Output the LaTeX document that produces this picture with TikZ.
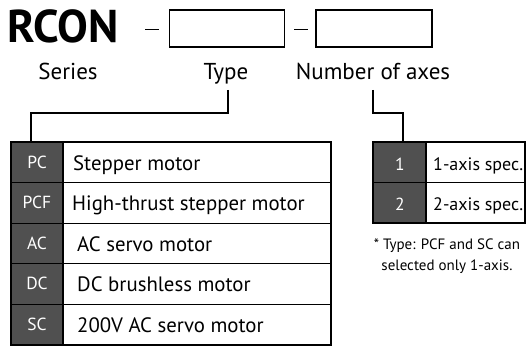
\documentclass[tikz,border=0pt]{standalone}
\usepackage{fontspec}
\setmainfont{PT Sans}
\definecolor{cellgray}{HTML}{505050}
\begin{document}
\begin{tikzpicture}[x=1pt,y=-1pt,
  dcell/.style={draw=black,line width=1.2pt,fill=cellgray},
  wcell/.style={draw=black,line width=1.2pt,fill=white},
  lbl/.style={font=\fontsize{23}{23}\selectfont,inner sep=0pt,anchor=base},
  keytext/.style={text=white,font=\fontsize{17.5}{17.5}\selectfont,inner sep=0pt,anchor=base},
  celltext/.style={font=\fontsize{20.8}{20.8}\selectfont,inner sep=0pt,anchor=base west},
  axtext/.style={font=\fontsize{18}{18}\selectfont,inner sep=0pt,anchor=base west},
  dashline/.style={draw=black,line width=1.8pt},
  conn/.style={draw=black,line width=1.2pt}]
\useasboundingbox (0,0) rectangle (532,350);
% header
\node[inner sep=0pt,anchor=base west,font=\fontsize{46}{46}\bfseries\selectfont] (rcon) at (7,43) {RCON};
\node[draw=black,line width=1.2pt,minimum width=115pt,minimum height=37pt,inner sep=0pt] (b1) at (227,28.5) {};
\node[draw=black,line width=1.2pt,minimum width=116pt,minimum height=37pt,inner sep=0pt] (b2) at (374,28.5) {};
\coordinate (d1a) at (145,29.5);
\coordinate (d1b) at (159,29.5);
\coordinate (d2a) at (294,29.5);
\coordinate (d2b) at (308,29.5);
\draw[dashline] (d1a) -- (d1b);
\draw[dashline] (d2a) -- (d2b);
\node[lbl] (series) at (68,80) {Series};
\node[lbl] (type) at (226,80) {Type};
\node[lbl] (axes) at (373,80) {Number of axes};
% left table
\foreach \i/\c/\t/\xo in {1/PC/Stepper motor/73,2/PCF/High-thrust stepper motor/72,3/AC/AC servo motor/77,4/DC/DC brushless motor/77,5/SC/200V AC servo motor/77}{
  \pgfmathsetmacro{\ytop}{142+(\i-1)*40.6}
  \pgfmathsetmacro{\ybot}{142+\i*40.6}
  \draw[wcell] (63,\ytop) rectangle (331,\ybot);
  \draw[dcell] (11,\ytop) rectangle (63,\ybot);
  \node[keytext] (k\i) at (37,\ytop+26) {\c};
  \node[celltext] (v\i) at (\xo,\ytop+28) {\t};
}
\coordinate (ltop) at (31,142);
% right table
\foreach \i/\c/\t in {1/1/1-axis spec.,2/2/2-axis spec.}{
  \pgfmathsetmacro{\ytop}{142+(\i-1)*40.5}
  \pgfmathsetmacro{\ybot}{142+\i*40.5}
  \draw[wcell] (426,\ytop) rectangle (525,\ybot);
  \draw[dcell] (373,\ytop) rectangle (426,\ybot);
  \node[keytext] (n\i) at (400,\ytop+28) {\c};
  \node[axtext] (a\i) at (433,\ytop+28) {\t};
}
\coordinate (rtop) at (403,142);
% footnote
\node[align=center,font=\fontsize{15}{21}\selectfont,inner sep=0pt] (note) at (447,256) {* Type: PCF and SC can\\selected only 1-axis.};
% connectors
\coordinate (t0) at (228,90);
\coordinate (a0) at (373,90);
\draw[conn] (t0) -- (t0 |- 0,113) -- (ltop |- 0,113) -- (ltop);
\draw[conn] (a0) -- (a0 |- 0,113) -- (rtop |- 0,113) -- (rtop);
\end{tikzpicture}
\end{document}
